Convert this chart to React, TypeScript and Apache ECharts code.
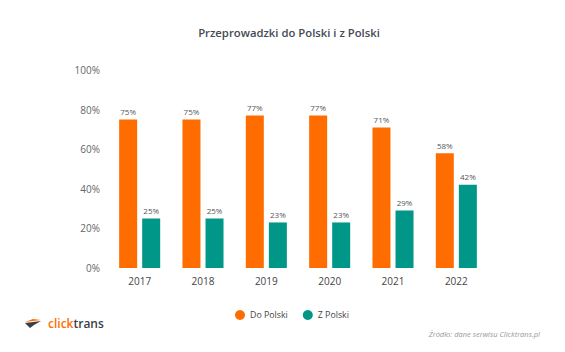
import React, { useEffect, useRef } from "react";
import * as echarts from "echarts";

const categories = ["2017", "2018", "2019", "2020", "2021", "2022"];
const doPolski = [75, 75, 77, 77, 71, 58];
const zPolski = [25, 25, 23, 23, 29, 42];
const seriesNames = ["Do Polski", "Z Polski"];

export default function App() {
  const ref = useRef<HTMLDivElement>(null);
  useEffect(() => {
    const chart = echarts.init(ref.current!, null, { renderer: "svg" });
    const font = "'Open Sans', 'Noto Sans', sans-serif";
    chart.setOption({
      animation: false,
      backgroundColor: "#ffffff",
      textStyle: { fontFamily: font },
      title: {
        text: "Przeprowadzki do Polski i z Polski",
        left: 284,
        textAlign: "center",
        top: 22,
        textStyle: { fontSize: 11.3, fontWeight: 600, color: "#444a55", fontFamily: font },
      },
      grid: { left: 108, right: 77, top: 70, bottom: 84 },
      legend: {
        data: seriesNames,
        left: 230,
        top: 305,
        icon: "circle",
        itemWidth: 10,
        itemHeight: 10,
        itemGap: 15,
        textStyle: { fontSize: 8.8, color: "#444", fontFamily: font },
      },
      xAxis: {
        type: "category",
        data: categories,
        axisLine: { show: false },
        axisTick: { show: false },
        axisLabel: { color: "#444", fontSize: 10, margin: 8 },
      },
      yAxis: {
        type: "value",
        min: 0,
        max: 100,
        interval: 20,
        splitLine: { show: false },
        axisLabel: { formatter: "{value}%", color: "#666", fontSize: 10, margin: 8 },
      },
      series: [
        {
          name: seriesNames[0],
          type: "bar",
          data: doPolski,
          barWidth: 18,
          barGap: "28%",
          itemStyle: { color: "#FF6D00" },
          label: { show: true, position: "top", formatter: "{c}%", fontSize: 8, color: "#555", distance: 4 },
        },
        {
          name: seriesNames[1],
          type: "bar",
          data: zPolski,
          barWidth: 18,
          itemStyle: { color: "#009688" },
          label: { show: true, position: "top", formatter: "{c}%", fontSize: 8, color: "#555", distance: 4 },
        },
      ],
      graphic: [
        {
          type: "polygon",
          shape: { points: [[25, 322], [33, 319], [41, 320], [33, 321]] },
          style: { fill: "#FF6D00" },
        },
        {
          type: "polygon",
          shape: { points: [[25, 323], [33, 322], [41, 321], [34, 325], [30, 328]] },
          style: { fill: "#3a3f4a" },
        },
        {
          type: "text",
          x: 48,
          y: 323,
          style: {
            text: "{a|click}{b|trans}",
            verticalAlign: "middle",
            rich: {
              a: { fill: "#FF6D00", fontSize: 12, fontWeight: 600, fontFamily: font },
              b: { fill: "#3a3f4a", fontSize: 12, fontWeight: 600, fontFamily: font },
            },
          },
        },
        {
          type: "text",
          right: 25,
          top: 330,
          style: {
            text: "Źródło: dane serwisu Clicktrans.pl",
            fill: "#999",
            fontSize: 7.5,
            fontStyle: "italic",
            fontFamily: font,
          },
        },
      ],
    });
    return () => chart.dispose();
  }, []);
  return <div ref={ref} style={{ width: 565, height: 352, position: "absolute", left: 0, top: 0 }} />;
}
